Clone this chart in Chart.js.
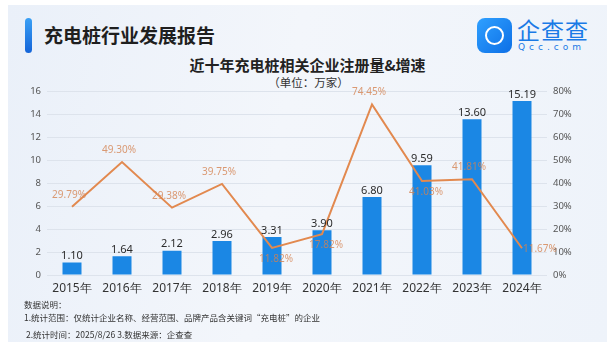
<!DOCTYPE html>
<html lang="zh">
<head>
  <meta charset="UTF-8">
  <title>充电桩行业发展报告</title>
  <script src="https://cdn.jsdelivr.net/npm/chart.js"></script>
  <style>
    html, body {
      margin: 0;
      padding: 0;
      background: #ffffff;
      font-family: "Noto Sans CJK SC", "Noto Sans", sans-serif;
    }
    #card {
      position: absolute;
      left: 8px;
      top: 5px;
      width: 599px;
      height: 337px;
      background: linear-gradient(100deg, #eaf0f9 0%, #f3f6fb 45%, #eef3fa 100%);
    }
    #bar {
      position: absolute;
      left: 25px;
      top: 18px;
      width: 7px;
      height: 35px;
      border-radius: 4px;
      background: linear-gradient(180deg, #3aa0f5, #1464d8);
    }
    #title {
      position: absolute;
      left: 44px;
      top: 22px;
      font-size: 19px;
      font-weight: bold;
      color: #1f1f1f;
      line-height: 26px;
    }
    #logo-icon {
      position: absolute;
      left: 477px;
      top: 18px;
      width: 35px;
      height: 35px;
      border-radius: 8px;
      background: linear-gradient(135deg, #2fa0ff, #0d6fe6);
    }
    #logo-icon div {
      position: absolute;
      left: 8px;
      top: 8px;
      width: 15px;
      height: 15px;
      border: 2.5px solid #fff;
      border-radius: 50%;
    }
    #logo-text {
      position: absolute;
      left: 517px;
      top: 15px;
      font-size: 23px;
      color: #1a7ae6;
      line-height: 28px;
      letter-spacing: 1px;
    }
    #logo-sub {
      position: absolute;
      left: 518px;
      top: 42px;
      font-size: 9px;
      color: #1a7ae6;
      letter-spacing: 4px;
      font-family: "DejaVu Sans", sans-serif;
    }
    #chart-title {
      position: absolute;
      left: 0;
      width: 615px;
      top: 56px;
      text-align: center;
      font-size: 15px;
      font-weight: bold;
      color: #222;
      line-height: 18px;
    }
    #chart-sub {
      position: absolute;
      left: 0;
      width: 617px;
      top: 74px;
      text-align: center;
      font-size: 11.5px;
      color: #333;
      line-height: 16px;
    }
    #chart-box {
      position: absolute;
      left: 0;
      top: 80px;
      width: 615px;
      height: 220px;
    }
    .note {
      position: absolute;
      left: 24px;
      font-size: 8.5px;
      color: #333;
      line-height: 12px;
    }
  </style>
</head>
<body>
  <div id="card"></div>
  <div id="bar"></div>
  <div id="title">充电桩行业发展报告</div>
  <div id="logo-icon"><div></div></div>
  <div id="logo-text">企查查</div>
  <div id="logo-sub">Qcc.com</div>
  <div id="chart-title">近十年充电桩相关企业注册量&amp;增速</div>
  <div id="chart-sub">（单位：万家）</div>
  <div id="chart-box">
    <canvas id="myChart"></canvas>
  </div>
  <div class="note" style="top:298px;">数据说明：</div>
  <div class="note" style="top:311px;">1.统计范围：仅统计企业名称、经营范围、品牌产品含关键词“充电桩”的企业</div>
  <div class="note" style="top:328px;left:26px;">2.统计时间：2025/8/26 3.数据来源：企查查</div>

  <script>
    const years = ['2015年', '2016年', '2017年', '2018年', '2019年', '2020年', '2021年', '2022年', '2023年', '2024年'];
    const registrations = [1.10, 1.64, 2.12, 2.96, 3.31, 3.90, 6.80, 9.59, 13.60, 15.19];
    const growthRates = [29.79, 49.30, 29.38, 39.75, 11.82, 17.82, 74.45, 41.03, 41.81, 11.67];
    const leftTicks = [0, 2, 4, 6, 8, 10, 12, 14, 16];
    const rightTicks = [0, 10, 20, 30, 40, 50, 60, 70, 80];

    // where each growth label sits relative to its point
    const growthLabelPos = ['top', 'top', 'top', 'top', 'bottom', 'bottom', 'top', 'bottom', 'top', 'right'];

    const labelPlugin = {
      id: 'valueLabels',
      afterDatasetsDraw(chart) {
        const ctx = chart.ctx;
        ctx.save();

        // bar values
        const barMeta = chart.getDatasetMeta(1);
        ctx.font = '11px "Noto Sans", sans-serif';
        ctx.fillStyle = '#2b2b2b';
        ctx.textAlign = 'center';
        ctx.textBaseline = 'bottom';
        barMeta.data.forEach((el, i) => {
          ctx.fillText(registrations[i].toFixed(2), el.x, el.y - 1);
        });

        // growth rates
        const lineMeta = chart.getDatasetMeta(0);
        ctx.font = '10px "Noto Sans", sans-serif';
        ctx.fillStyle = 'rgba(212, 130, 80, 0.8)';
        lineMeta.data.forEach((el, i) => {
          const txt = growthRates[i].toFixed(2) + '%';
          const pos = growthLabelPos[i];
          if (pos === 'top') {
            ctx.textAlign = 'center';
            ctx.textBaseline = 'middle';
            ctx.fillText(txt, el.x - 3, el.y - 12);
          } else if (pos === 'bottom') {
            ctx.textAlign = 'center';
            ctx.textBaseline = 'middle';
            ctx.fillText(txt, el.x + 4, el.y + 11);
          } else {
            ctx.textAlign = 'left';
            ctx.textBaseline = 'middle';
            ctx.fillText(txt, el.x + 1, el.y + 1);
          }
        });
        ctx.restore();
      }
    };

    const ctx = document.getElementById('myChart').getContext('2d');
    const myChart = new Chart(ctx, {
      data: {
        labels: years,
        datasets: [
          {
            type: 'line',
            label: '增速',
            data: growthRates,
            yAxisID: 'y1',
            borderColor: '#e2894f',
            borderWidth: 2,
            pointRadius: 0,
            tension: 0,
            order: 0
          },
          {
            type: 'bar',
            label: '注册量',
            data: registrations,
            yAxisID: 'y',
            backgroundColor: '#1b87e4',
            barPercentage: 0.38,
            categoryPercentage: 1,
            order: 1
          }
        ]
      },
      options: {
        responsive: true,
        maintainAspectRatio: false,
        animation: false,
        layout: { padding: { top: 9, left: 0, right: 0, bottom: 0 } },
        plugins: {
          legend: { display: false },
          tooltip: { enabled: false }
        },
        scales: {
          x: {
            grid: { display: false, drawTicks: false },
            border: { display: false },
            ticks: {
              color: '#333',
              font: { size: 12, family: '"Noto Sans", sans-serif' },
              padding: 6
            },
            afterFit(scale) { scale.height = 25; }
          },
          y: {
            position: 'left',
            min: 0,
            max: 16,
            afterBuildTicks(scale) { scale.ticks = leftTicks.map(v => ({ value: v })); },
            grid: { color: '#dde3ec', drawTicks: false, lineWidth: 1 },
            border: { display: false },
            ticks: {
              color: '#555',
              font: { size: 9.5, family: '"Noto Sans", sans-serif' },
              padding: 6
            },
            afterFit(scale) { scale.width = 47; }
          },
          y1: {
            position: 'right',
            min: 0,
            max: 80,
            afterBuildTicks(scale) { scale.ticks = rightTicks.map(v => ({ value: v })); },
            grid: { display: false, drawTicks: false },
            border: { display: false },
            ticks: {
              color: '#555',
              font: { size: 9.5, family: '"Noto Sans", sans-serif' },
              padding: 6,
              callback: v => v + '%'
            },
            afterFit(scale) { scale.width = 68; }
          }
        }
      },
      plugins: [labelPlugin]
    });
  </script>
</body>
</html>
